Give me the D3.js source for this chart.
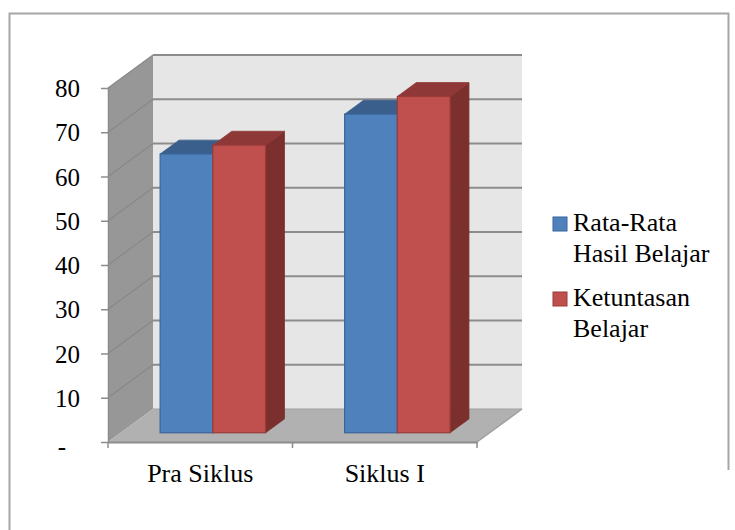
<!DOCTYPE html>
<html>
<head>
<meta charset="utf-8">
<script src="https://cdn.jsdelivr.net/npm/d3@7"></script>
<style>
  html, body { margin: 0; padding: 0; background: #ffffff; }
  svg { display: block; }
  svg text { font-family: "Liberation Serif", "Times New Roman", Times, serif; fill: #000; }
</style>
</head>
<body>
<svg id="chart" width="735" height="530"></svg>
<script>
// Chart data
const categories = ["Pra Siklus", "Siklus I"];
const seriesNames = ["Rata-Rata Hasil Belajar", "Ketuntasan Belajar"];
const rataRata = [63, 72];
const ketuntasan = [65, 76];
const yTicks = [0, 10, 20, 30, 40, 50, 60, 70, 80];
const yTickLabels = ["-", "10", "20", "30", "40", "50", "60", "70", "80"];
const legendLines = [["Rata-Rata", "Hasil Belajar"], ["Ketuntasan", "Belajar"]];

const seriesValues = [rataRata, ketuntasan];

// Colours per series: front face, top face, side face, outline
const palette = [
  { front: "#4f81bd", top: "#3b5f8c", side: "#345479", stroke: "#3a659a" },
  { front: "#c0504d", top: "#8e3937", side: "#7b302e", stroke: "#9a3b39" }
];

const svg = d3.select("#chart");

// Frame around the chart area
svg.append("path")
  .attr("d", "M9.5,530 V13.5 H728.5 V470")
  .attr("fill", "none")
  .attr("stroke", "#a6a6a6")
  .attr("stroke-width", 2);

// Oblique 3D projection: front plane plus full depth offset
const depthX = 45, depthY = -33;
const plotLeft = 108, plotRight = 477;

const y = d3.scaleLinear().domain([0, 80]).range([442, 88]);
const x0 = d3.scaleBand().domain(categories).range([plotLeft, plotRight])
  .paddingInner(1.5 / 3.5).paddingOuter(0.75 / 3.5);
const x1 = d3.scaleBand().domain(d3.range(seriesNames.length)).range([0, x0.bandwidth()]);

// Bar depth position as a fraction of the full depth
const barFront = 0.28, barDepth = 0.42;

const g = svg.append("g");

// Side wall
const wallPts = [
  [plotLeft, y(0)], [plotLeft, y(80)],
  [plotLeft + depthX, y(80) + depthY], [plotLeft + depthX, y(0) + depthY]
];
g.append("polygon").attr("points", wallPts.map(p => p.join(",")).join(" "))
  .attr("fill", "#979797");

// Back wall
g.append("rect")
  .attr("x", plotLeft + depthX).attr("y", y(80) + depthY)
  .attr("width", plotRight - plotLeft).attr("height", y(0) - y(80))
  .attr("fill", "#e6e6e6");

// Floor
const floorPts = [
  [plotLeft, y(0)], [plotRight, y(0)],
  [plotRight + depthX, y(0) + depthY], [plotLeft + depthX, y(0) + depthY]
];
g.append("polygon").attr("points", floorPts.map(p => p.join(",")).join(" "))
  .attr("fill", "#b1b1b1");

// Gridlines on back wall and side wall
const gridVals = yTicks.filter(v => v > 0);
g.selectAll("line.grid-back").data(gridVals).join("line")
  .attr("class", "grid-back")
  .attr("x1", plotLeft + depthX).attr("x2", plotRight + depthX)
  .attr("y1", d => y(d) + depthY).attr("y2", d => y(d) + depthY)
  .attr("stroke", "#8c8c8c").attr("stroke-width", 2);
g.selectAll("line.grid-side").data(gridVals).join("line")
  .attr("class", "grid-side")
  .attr("x1", plotLeft).attr("x2", plotLeft + depthX)
  .attr("y1", d => y(d)).attr("y2", d => y(d) + depthY)
  .attr("stroke", "#888888").attr("stroke-width", 1.2);

// Edges of floor / walls
g.append("line")
  .attr("x1", plotLeft + depthX).attr("x2", plotRight + depthX)
  .attr("y1", y(0) + depthY).attr("y2", y(0) + depthY)
  .attr("stroke", "#a0a0a0").attr("stroke-width", 1);
g.append("line")
  .attr("x1", plotRight).attr("x2", plotRight + depthX)
  .attr("y1", y(0)).attr("y2", y(0) + depthY)
  .attr("stroke", "#a0a0a0").attr("stroke-width", 1.5);

// Bars
const bars = [];
categories.forEach((c, ci) => {
  seriesValues.forEach((vals, si) => {
    bars.push({ cat: c, s: si, v: vals[ci] });
  });
});

const ox = barFront * depthX, oy = barFront * depthY;
const bx = barDepth * depthX, by = barDepth * depthY;

const barG = g.selectAll("g.bar").data(bars).join("g").attr("class", "bar");
barG.each(function(d) {
  const sel = d3.select(this);
  const col = palette[d.s];
  const xl = x0(d.cat) + x1(d.s) + ox;
  const xr = xl + x1.bandwidth();
  const yt = y(d.v) + oy;
  const yb = y(0) + oy;
  // side face
  sel.append("polygon")
    .attr("points", [[xr, yt], [xr + bx, yt + by], [xr + bx, yb + by], [xr, yb]].map(p => p.join(",")).join(" "))
    .attr("fill", col.side).attr("stroke", col.side).attr("stroke-width", 0.8);
  // top face
  sel.append("polygon")
    .attr("points", [[xl, yt], [xr, yt], [xr + bx, yt + by], [xl + bx, yt + by]].map(p => p.join(",")).join(" "))
    .attr("fill", col.top).attr("stroke", col.top).attr("stroke-width", 0.8);
  // front face
  sel.append("rect")
    .attr("x", xl).attr("y", yt)
    .attr("width", x1.bandwidth()).attr("height", yb - yt)
    .attr("fill", col.front).attr("stroke", col.stroke).attr("stroke-width", 1.2);
});

// Y axis
const yAxis = d3.axisLeft(y).tickValues(yTicks)
  .tickFormat((d, i) => yTickLabels[i])
  .tickSize(7).tickSizeOuter(0).tickPadding(21);
const yg = svg.append("g").attr("transform", `translate(${plotLeft},0)`).call(yAxis)
  .attr("font-family", null).attr("font-size", null);
yg.select(".domain").attr("stroke", "#8c8c8c").attr("stroke-width", 1.5);
yg.selectAll(".tick line").attr("stroke", "#8c8c8c").attr("stroke-width", 1.5);
yg.selectAll(".tick text")
  .style("font-size", "25px").attr("fill", "#000")
  .attr("dx", (d, i) => yTickLabels[i] === "-" ? -14 : 0)
  .attr("dy", (d, i) => yTickLabels[i] === "-" ? "0.5em" : "0.34em");

// X axis (labels at band centres)
const xAxis = d3.axisBottom(x0).tickSize(0).tickSizeOuter(0).tickPadding(22);
const xg = svg.append("g").attr("transform", `translate(0,${y(0)})`).call(xAxis)
  .attr("font-family", null).attr("font-size", null);
xg.select(".domain").attr("stroke", "#8c8c8c").attr("stroke-width", 2);
xg.selectAll(".tick text")
  .style("font-size", "26px").attr("fill", "#000");

// Category boundary ticks
xg.selectAll("line.bound").data(d3.range(categories.length + 1)).join("line")
  .attr("class", "bound")
  .attr("x1", i => plotLeft + i * x0.step()).attr("x2", i => plotLeft + i * x0.step())
  .attr("y1", 0).attr("y2", 6)
  .attr("stroke", "#8c8c8c").attr("stroke-width", 1.5);

// Legend
const legend = svg.append("g").attr("transform", "translate(553,217)");
const legItems = legend.selectAll("g").data(seriesNames).join("g")
  .attr("transform", (d, i) => `translate(0,${i * 75})`);
legItems.append("rect")
  .attr("x", 0).attr("y", 0).attr("width", 14).attr("height", 14)
  .attr("fill", (d, i) => palette[i].front)
  .attr("stroke", (d, i) => palette[i].stroke).attr("stroke-width", 1);
legItems.each(function(d, i) {
  const t = d3.select(this).append("text").style("font-size", "26px");
  legendLines[i].forEach((line, li) => {
    t.append("tspan").attr("x", 20).attr("y", 14 + li * 31).text(line);
  });
});
</script>
</body>
</html>
